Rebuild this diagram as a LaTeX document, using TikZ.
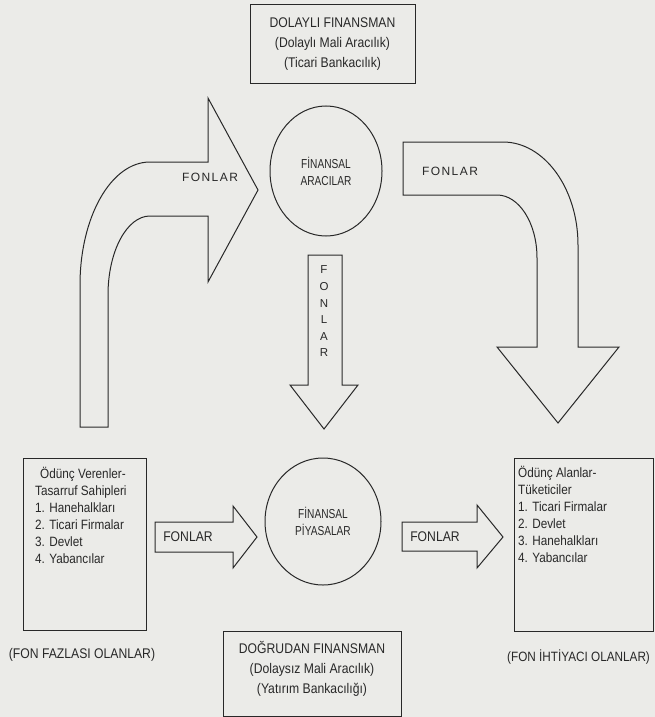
\documentclass[tikz,border=0pt]{standalone}
\usepackage{fontspec}
\setmainfont{Liberation Sans}[FakeStretch=0.87]
\newfontfamily\spacedfont{Liberation Sans}[LetterSpace=12]
\newfontfamily\narrowfont{Liberation Sans}[FakeStretch=0.78]
\newfontfamily\plainfont{Liberation Sans}
\usetikzlibrary{shapes.geometric}
\definecolor{paper}{RGB}{235,235,232}
\definecolor{ink}{RGB}{40,40,40}
\begin{document}
\begin{tikzpicture}[x=1pt,y=-1pt,
  ln/.style={draw=ink, line width=1pt},
  boxnode/.style={ln, rectangle, inner sep=0pt},
  oval/.style={ln, ellipse, inner sep=0pt, align=center, text=ink,
    font=\narrowfont\fontsize{13}{17}\selectfont},
  blockarrow/.style={ln, line join=miter},
  txt/.style={inner sep=0pt, text=ink, font=\fontsize{14}{20}\selectfont},
  lst/.style={inner sep=0pt, text=ink, align=left, font=\fontsize{13.5}{17}\selectfont},
  fon/.style={inner sep=0pt, text=ink, font=\spacedfont\fontsize{12}{14}\selectfont},
  vfon/.style={inner sep=0pt, text=ink, align=center, font=\plainfont\fontsize{11.5}{16.6}\selectfont},
]
\fill[paper] (0,0) rectangle (655,717);
\useasboundingbox (0,0) rectangle (655,717);

% boxes
\node[boxnode, txt, align=center, minimum width=165pt, minimum height=78pt] (dolayli) at (332.5,44)
  {DOLAYLI FINANSMAN\\(Dolaylı Mali Aracılık)\\(Ticari Bankacılık)};
\node[boxnode, minimum width=123pt, minimum height=172pt] (solkutu) at (84.5,544) {};
\node[boxnode, minimum width=139pt, minimum height=173pt] (sagkutu) at (583.5,544.5) {};
\node[boxnode, minimum width=178pt, minimum height=85pt] (altkutu) at (312,673.5) {};
\node[txt, align=center] (dogrudan) at (312,668.5)
  {DOĞRUDAN FINANSMAN\\(Dolaysız Mali Aracılık)\\(Yatırım Bankacılığı)};

% ellipses
\node[oval, minimum width=112pt, minimum height=130pt] (aracilar) at (326,171) {FİNANSAL\\ARACILAR};
\node[oval, minimum width=116pt, minimum height=127pt] (piyasalar) at (323,521.5) {FİNANSAL\\PİYASALAR};

% block arrows
\draw[blockarrow] (80,427) -- (80,285) .. controls (80,217) and (111,162) .. (150,162)
  -- (208,162) -- (208,98) -- (258,190) -- (208,282) -- (208,216) -- (150,216)
  .. controls (127,216) and (108,251) .. (108,295) -- (108,427) -- cycle;
\draw[blockarrow] (403,142) -- (503,142) .. controls (544,142) and (578,188) .. (578,245)
  -- (578,347) -- (619,347) -- (558,423) -- (497,347) -- (537,347) -- (537,258)
  .. controls (537,223) and (519,195) .. (497,195) -- (403,195) -- cycle;
\draw[blockarrow] (308,255) -- (342,255) -- (342,385) -- (358,385) -- (324,429)
  -- (290,385) -- (308,385) -- cycle;
\draw[blockarrow] (155,522) -- (233,522) -- (233,506) -- (257,537) -- (233,568)
  -- (233,552) -- (155,552) -- cycle;
\draw[blockarrow] (402,522) -- (477,522) -- (477,505) -- (503,537) -- (477,568)
  -- (477,551) -- (402,551) -- cycle;

% arrow labels
\node[fon] (f1) at (210,177) {FONLAR};
\node[fon] (f2) at (450,171) {FONLAR};
\node[vfon] (f3) at (324,311.5) {F\\O\\N\\L\\A\\R};
\node[txt] (f4) at (188,537) {FONLAR};
\node[txt] (f5) at (435,537) {FONLAR};

% lists
\node[lst, anchor=west] (verenler) at (35,515.5)
  {\hspace*{5pt}Ödünç Verenler-\\Tasarruf Sahipleri\\1. Hanehalkları\\2. Ticari Firmalar\\3. Devlet\\4. Yabancılar};
\node[lst, anchor=west] (alanlar) at (518,514.5)
  {Ödünç Alanlar-\\Tüketiciler\\1. Ticari Firmalar\\2. Devlet\\3. Hanehalkları\\4. Yabancılar};

% bottom labels
\node[txt] (fazla) at (82,655) {(FON FAZLASI OLANLAR)};
\node[txt, anchor=west, font=\fontsize{13.5}{16}\selectfont] (ihtiyac) at (507,657) {(FON İHTİYACI OLANLAR)};
\end{tikzpicture}
\end{document}
